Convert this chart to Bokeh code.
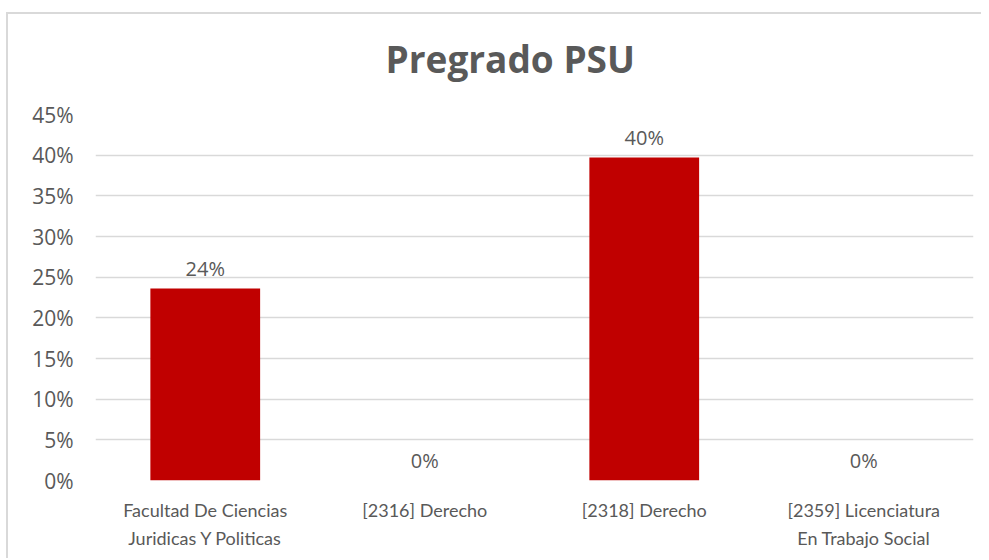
from bokeh.plotting import figure
from bokeh.models import ColumnDataSource, NumeralTickFormatter, Range1d, FixedTicker
from bokeh.core.properties import value
from bokeh.embed import file_html
from bokeh.resources import INLINE

title_text = "Pregrado PSU"
categories = ["Facultad De Ciencias\nJuridicas Y Politicas", "[2316] Derecho",
              "[2318] Derecho", "[2359] Licenciatura\nEn Trabajo Social"]
values = [0.236, 0.0, 0.397, 0.0]
labels = [f"{v:.0%}" for v in values]
y_ticks = [0, 0.05, 0.10, 0.15, 0.20, 0.25, 0.30, 0.35, 0.40, 0.45]

src = ColumnDataSource(dict(cat=categories, val=values, lab=labels))

chart_border = ("linear-gradient(#d9d9d9, #d9d9d9) 6px 12px / 100% 2px no-repeat, "
                "linear-gradient(#d9d9d9, #d9d9d9) 6px 12px / 2px 100% no-repeat, #ffffff")

p = figure(x_range=categories, y_range=Range1d(0, 0.45), width=981, height=558,
           output_backend="svg", toolbar_location=None,
           min_border_left=95, min_border_right=8, min_border_top=114, min_border_bottom=78,
           styles={"background": chart_border})
p.border_fill_color = None
p.background_fill_color = "#ffffff"

p.title.text = title_text
p.title.align = "left"
p.title.vertical_align = "top"
p.title.offset = 290
p.title.standoff = 58
p.title.text_font = "Open Sans"
p.title.text_font_style = "bold"
p.title.text_font_size = "37px"
p.title.text_color = "#595959"

p.vbar(x="cat", top="val", width=0.5, source=src, fill_color="#C00000", line_color=None)
p.text(x="cat", y="val", text="lab", source=src, text_align="center", text_baseline="bottom",
       y_offset=-7, text_font=value("Open Sans"), text_font_size="20px", text_color="#595959")

p.outline_line_color = None
p.xgrid.grid_line_color = None
p.ygrid.grid_line_color = "#d9d9d9"
p.ygrid.grid_line_width = 1.5
p.ygrid.ticker = FixedTicker(ticks=y_ticks)

p.yaxis.ticker = FixedTicker(ticks=y_ticks)
p.yaxis.formatter = NumeralTickFormatter(format="0%")
p.yaxis.axis_line_color = None
p.yaxis.major_tick_line_color = None
p.yaxis.minor_tick_line_color = None
p.yaxis.major_label_standoff = 16
p.yaxis.major_label_text_font = "Open Sans"
p.yaxis.major_label_text_font_size = "21px"
p.yaxis.major_label_text_color = "#595959"

p.xaxis.axis_line_color = None
p.xaxis.major_tick_line_color = None
p.xaxis.minor_tick_line_color = None
p.xaxis.major_label_standoff = 12
p.xaxis.major_label_text_font = "Lato"
p.xaxis.major_label_text_font_size = "18px"
p.xaxis.major_label_text_line_height = 1.3
p.xaxis.major_label_text_color = "#595959"

p.x_range.range_padding = 0

open("out.html", "w").write(file_html(p, INLINE))
